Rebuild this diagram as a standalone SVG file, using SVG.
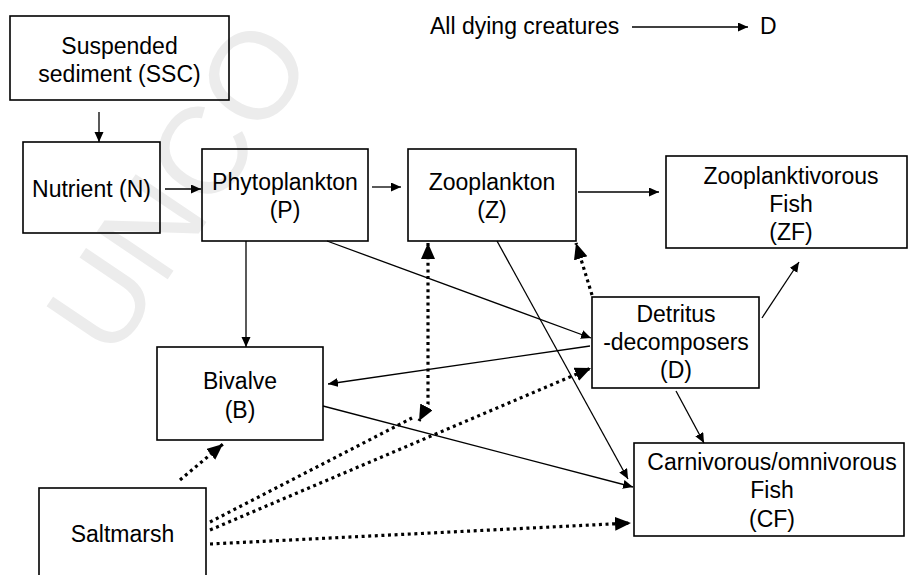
<svg xmlns="http://www.w3.org/2000/svg" width="909" height="575" viewBox="0 0 909 575">
<defs>
<style>
.box{fill:none;stroke:#000;stroke-width:1.6}
.t{font-family:"Liberation Sans",Arial,sans-serif;font-size:23px;fill:#000;text-anchor:middle}
.ln{fill:none;stroke:#000;stroke-width:1.3}
.dt{fill:none;stroke:#000;stroke-width:3.2;stroke-dasharray:3 3.6}
.wm{font-family:"Liberation Sans",Arial,sans-serif;font-size:124px;fill:#ececec}
</style>
<marker id="a" markerUnits="userSpaceOnUse" markerWidth="11" markerHeight="10" refX="10" refY="4.5" orient="auto">
<path d="M0,0 L10,4.5 L0,9 Z" fill="#000"/>
</marker>
<marker id="b" markerUnits="userSpaceOnUse" markerWidth="17" markerHeight="15" refX="16" refY="7" orient="auto-start-reverse">
<path d="M0,0 L16,7 L0,14 Z" fill="#000"/>
</marker>
</defs>
<rect width="909" height="575" fill="#fff"/>
<text class="wm" transform="translate(112,362) rotate(-56)">UNCO</text>

<g id="connectors">
<path class="ln" d="M99,112 L99,142" marker-end="url(#a)"/>
<path class="ln" d="M165,189 L201,189" marker-end="url(#a)"/>
<path class="ln" d="M372,187 L401,187" marker-end="url(#a)"/>
<path class="ln" d="M578,192 L659,192" marker-end="url(#a)"/>
<path class="ln" d="M246,241 L246,347" marker-end="url(#a)"/>
<path class="ln" d="M327,241 L591,338" marker-end="url(#a)"/>
<path class="ln" d="M590,346 L328,384" marker-end="url(#a)"/>
<path class="ln" d="M497,241 L628,479" marker-end="url(#a)"/>
<path class="ln" d="M323,406 L633,487" marker-end="url(#a)"/>
<path class="ln" d="M676,391 L704,443" marker-end="url(#a)"/>
<path class="ln" d="M762,318 L799,262" marker-end="url(#a)"/>
<path class="ln" d="M632,27 L748,27" marker-end="url(#a)"/>
<path class="dt" d="M180,480 L223,444" marker-end="url(#b)"/>
<path class="dt" d="M210,522 L412,418"/>
<path class="dt" d="M428,243 L428,404 L419,421" marker-start="url(#b)" marker-end="url(#b)"/>
<path class="dt" d="M210,530 L591,368" marker-end="url(#b)"/>
<path class="dt" d="M210,544 L631,523" marker-end="url(#b)"/>
<path class="dt" d="M592,295 L576,243" marker-end="url(#b)"/>
</g>

<g id="legend">
<text class="t" x="430" y="34" style="text-anchor:start">All dying creatures</text>
<text class="t" x="760" y="34" style="text-anchor:start">D</text>
</g>

<g id="SSC">
<rect class="box" x="10" y="16" width="219" height="84"/>
<text class="t" x="119.5" y="54">Suspended</text>
<text class="t" x="119.5" y="82">sediment (SSC)</text>
</g>
<g id="N">
<rect class="box" x="23" y="142" width="137" height="91"/>
<text class="t" x="91.5" y="197">Nutrient (N)</text>
</g>
<g id="P">
<rect class="box" x="202" y="149" width="166" height="92"/>
<text class="t" x="285" y="190">Phytoplankton</text>
<text class="t" x="285" y="218">(P)</text>
</g>
<g id="Z">
<rect class="box" x="408" y="149" width="168" height="92"/>
<text class="t" x="492" y="190">Zooplankton</text>
<text class="t" x="492" y="218">(Z)</text>
</g>
<g id="ZF">
<rect class="box" x="666" y="156" width="241" height="92"/>
<text class="t" x="791" y="184">Zooplanktivorous</text>
<text class="t" x="791" y="212">Fish</text>
<text class="t" x="791" y="240">(ZF)</text>
</g>
<g id="D">
<rect class="box" x="592" y="297" width="167" height="91"/>
<text class="t" x="676" y="322">Detritus</text>
<text class="t" x="676" y="350">-decomposers</text>
<text class="t" x="676" y="378">(D)</text>
</g>
<g id="B">
<rect class="box" x="157" y="347" width="166" height="93"/>
<text class="t" x="240" y="389">Bivalve</text>
<text class="t" x="240" y="418">(B)</text>
</g>
<g id="CF">
<rect class="box" x="634" y="443" width="270" height="93"/>
<text class="t" x="772" y="470">Carnivorous/omnivorous</text>
<text class="t" x="772" y="498">Fish</text>
<text class="t" x="772" y="527">(CF)</text>
</g>
<g id="Saltmarsh">
<rect class="box" x="39" y="488" width="167" height="110"/>
<text class="t" x="122.5" y="542">Saltmarsh</text>
</g>
</svg>
